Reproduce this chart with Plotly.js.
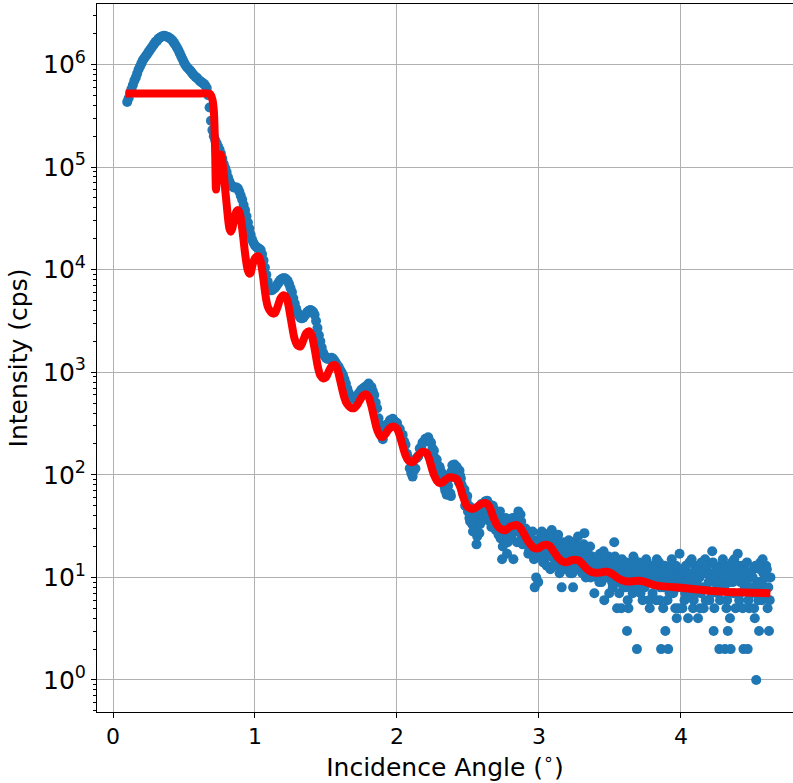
<!DOCTYPE html>
<html>
<head>
<meta charset="utf-8">
<script src="https://cdn.plot.ly/plotly-3.0.1.min.js"></script>
<style>html,body{margin:0;padding:0;background:#fff;}#chart{width:793px;height:783px;}</style>
</head>
<body>
<div id="chart"></div>
<script>
// Measured reflectivity (blue points), 0.01 degree readings
const measuredAngle = [
0.10,0.11,0.12,0.13,0.14,0.15,0.16,0.17,0.18,0.19,
0.20,0.21,0.22,0.23,0.24,0.25,0.26,0.27,0.28,0.29,
0.30,0.31,0.32,0.33,0.34,0.35,0.36,0.37,0.38,0.39,
0.40,0.41,0.42,0.43,0.44,0.45,0.46,0.47,0.48,0.49,
0.50,0.51,0.52,0.53,0.54,0.55,0.56,0.57,0.58,0.59,
0.60,0.61,0.62,0.63,0.64,0.65,0.66,0.67,0.68,0.69,
0.70,0.71,0.72,0.73,0.74,0.75,0.76,0.77,0.78,0.79,
0.80,0.81,0.82,0.83,0.84,0.85,0.86,0.87,0.88,0.89,
0.90,0.91,0.92,0.93,0.94,0.95,0.96,0.97,0.98,0.99,
1.00,1.01,1.02,1.03,1.04,1.05,1.06,1.07,1.08,1.09,
1.10,1.11,1.12,1.13,1.14,1.15,1.16,1.17,1.18,1.19,
1.20,1.21,1.22,1.23,1.24,1.25,1.26,1.27,1.28,1.29,
1.30,1.31,1.32,1.33,1.34,1.35,1.36,1.37,1.38,1.39,
1.40,1.41,1.42,1.43,1.44,1.45,1.46,1.47,1.48,1.49,
1.50,1.51,1.52,1.53,1.54,1.55,1.56,1.57,1.58,1.59,
1.60,1.61,1.62,1.63,1.64,1.65,1.66,1.67,1.68,1.69,
1.70,1.71,1.72,1.73,1.74,1.75,1.76,1.77,1.78,1.79,
1.80,1.81,1.82,1.83,1.84,1.85,1.86,1.87,1.88,1.89,
1.90,1.91,1.92,1.93,1.94,1.95,1.96,1.97,1.98,1.99,
2.00,2.01,2.02,2.03,2.04,2.05,2.06,2.07,2.08,2.09,
2.10,2.11,2.12,2.13,2.14,2.15,2.16,2.17,2.18,2.19,
2.20,2.21,2.22,2.23,2.24,2.25,2.26,2.27,2.28,2.29,
2.30,2.31,2.32,2.33,2.34,2.35,2.36,2.37,2.38,2.39,
2.40,2.41,2.42,2.43,2.44,2.45,2.46,2.47,2.48,2.49,
2.50,2.51,2.52,2.53,2.54,2.55,2.56,2.57,2.58,2.59,
2.60,2.61,2.62,2.63,2.64,2.65,2.66,2.67,2.68,2.69,
2.70,2.71,2.72,2.73,2.74,2.75,2.76,2.77,2.78,2.79,
2.80,2.81,2.82,2.83,2.84,2.85,2.86,2.87,2.88,2.89,
2.90,2.91,2.92,2.93,2.94,2.95,2.96,2.97,2.98,2.99,
3.00,3.01,3.02,3.03,3.04,3.05,3.06,3.07,3.08,3.09,
3.10,3.11,3.12,3.13,3.14,3.15,3.16,3.17,3.18,3.19,
3.20,3.21,3.22,3.23,3.24,3.25,3.26,3.27,3.28,3.29,
3.30,3.31,3.32,3.33,3.34,3.35,3.36,3.37,3.38,3.39,
3.40,3.41,3.42,3.43,3.44,3.45,3.46,3.47,3.48,3.49,
3.50,3.51,3.52,3.53,3.54,3.55,3.56,3.57,3.58,3.59,
3.60,3.61,3.62,3.63,3.64,3.65,3.66,3.67,3.68,3.69,
3.70,3.71,3.72,3.73,3.74,3.75,3.76,3.77,3.78,3.79,
3.80,3.81,3.82,3.83,3.84,3.85,3.86,3.87,3.88,3.89,
3.90,3.91,3.92,3.93,3.94,3.95,3.96,3.97,3.98,3.99,
4.00,4.01,4.02,4.03,4.04,4.05,4.06,4.07,4.08,4.09,
4.10,4.11,4.12,4.13,4.14,4.15,4.16,4.17,4.18,4.19,
4.20,4.21,4.22,4.23,4.24,4.25,4.26,4.27,4.28,4.29,
4.30,4.31,4.32,4.33,4.34,4.35,4.36,4.37,4.38,4.39,
4.40,4.41,4.42,4.43,4.44,4.45,4.46,4.47,4.48,4.49,
4.50,4.51,4.52,4.53,4.54,4.55,4.56,4.57,4.58,4.59,
4.60,4.61,4.62,4.63
];
const measuredIntensity = [
430000,468000,525000,575000,631000,692000,741000,813000,891000,955000,
1023000,1096000,1148000,1202000,1259000,1318000,1380000,1445000,1514000,1585000,
1660000,1698000,1778000,1820000,1862000,1884000,1905000,1884000,1862000,1841000,
1799000,1758000,1698000,1622000,1549000,1462000,1380000,1288000,1202000,1122000,
1047000,989000,944000,912000,881000,851000,813000,785000,759000,741000,
716000,692000,676000,661000,646000,624000,589000,501000,380000,282000,
229000,200000,182000,170000,158000,148000,135000,120000,107000,97700,
89100,79400,72400,67600,64600,63100,63100,63100,61700,57500,
52500,47900,42700,38000,33100,28800,25100,21900,19500,18200,
17200,16600,16200,16000,15500,14100,12300,10500,8910,7590,
6610,6310,6310,6460,6610,6920,7240,7590,7940,8130,
8220,8220,8040,7760,7240,6610,6030,5250,4680,4170,
3800,3550,3390,3350,3390,3550,3720,3890,3980,4030,
3980,3850,3630,3160,2690,2290,2000,1740,1550,1450,
1380,1350,1350,1360,1380,1350,1290,1230,1170,1120,
1050,1000,933,851,776,692,631,589,562,550,
550,562,589,617,646,676,692,708,724,741,
775,728,715,650,600,505,445,355,310,245,
222,258,276,310,318,340,332,352,335,325,
320,288,280,250,245,212,196,160,146,116,
104,96,110,115,146,152,180,186,206,208,
225,222,232,212,205,180,172,145,140,118,
120,105,96,84,70,64,78,98,62,124,
118,112,120,104,110,92,75,64,50,56,
44,38,48,33,41,30,21,36,27,45,
48,40,55,45,36,52,43,34,47,38,
33,40,28,24,15,35,26,30,22,36,
31,27,15,36,28,40,33,41,25,30,
27,22,24,18,26,19,23,8,10,16,
23,18,28,14,20,25,17,21,12,29,
19,15,24,13,20,17,8,22,14,18,
16,23,11,19,8,14,21,12,17,15,
18,13,27,10,16,12,20,14,11,7,
15,10,13,17,9,12,6,14,11,16,
10,13,8,22,12,5,9,14,5,11,
13,8,3,5,10,12,7,15,9,2,
11,8,13,6,10,9,14,12,5,9,
7,11,13,15,9,6,2,12,8,3,
10,2,7,13,9,11,5,4,8,17,
9,5,12,7,10,4,14,8,11,6,
13,9,4,10,7,12,5,15,8,11,
6,10,18,3,9,12,7,2,13,8,
11,2,5,3,9,2,14,7,10,12,
17,6,9,13,2,8,11,2,5,10,
7,12,4,1,9,3,14,6,11,8,
13,5,3,10
];

// Measured reflectivity, intermediate readings in the noisy tail (half-step angles)
const measuredAngleFine = [
2.305,2.315,2.325,2.335,2.345,2.355,2.365,2.375,2.385,2.395,
2.405,2.415,2.425,2.435,2.445,2.455,2.465,2.475,2.485,2.495,
2.505,2.515,2.525,2.535,2.545,2.555,2.565,2.575,2.585,2.595,
2.605,2.615,2.625,2.635,2.645,2.655,2.665,2.675,2.685,2.695,
2.705,2.715,2.725,2.735,2.745,2.755,2.765,2.775,2.785,2.795,
2.805,2.815,2.825,2.835,2.845,2.855,2.865,2.875,2.885,2.895,
2.905,2.915,2.925,2.935,2.945,2.955,2.965,2.975,2.985,2.995,
3.005,3.015,3.025,3.035,3.045,3.055,3.065,3.075,3.085,3.095,
3.105,3.115,3.125,3.135,3.145,3.155,3.165,3.175,3.185,3.195,
3.205,3.215,3.225,3.235,3.245,3.255,3.265,3.275,3.285,3.295,
3.305,3.315,3.325,3.335,3.345,3.355,3.365,3.375,3.385,3.395,
3.405,3.415,3.425,3.435,3.445,3.455,3.465,3.475,3.485,3.495,
3.505,3.515,3.525,3.535,3.545,3.555,3.565,3.575,3.585,3.595,
3.605,3.615,3.625,3.635,3.645,3.655,3.665,3.675,3.685,3.695,
3.705,3.715,3.725,3.735,3.745,3.755,3.765,3.775,3.785,3.795,
3.805,3.815,3.825,3.835,3.845,3.855,3.865,3.875,3.885,3.895,
3.905,3.915,3.925,3.935,3.945,3.955,3.965,3.975,3.985,3.995,
4.005,4.015,4.025,4.035,4.045,4.055,4.065,4.075,4.085,4.095,
4.105,4.115,4.125,4.135,4.145,4.155,4.165,4.175,4.185,4.195,
4.205,4.215,4.225,4.235,4.245,4.255,4.265,4.275,4.285,4.295,
4.305,4.315,4.325,4.335,4.345,4.355,4.365,4.375,4.385,4.395,
4.405,4.415,4.425,4.435,4.445,4.455,4.465,4.475,4.485,4.495,
4.505,4.515,4.525,4.535,4.545,4.555,4.565,4.575,4.585,4.595,
4.605,4.615,4.625
];
const measuredIntensityFine = [
112,90,102,76,88,70,92,66,108,100,
126,96,114,85,98,80,68,72,58,62,
50,35,42,28,46,39,25,43,33,52,
44,51,38,56,41,47,31,50,40,29,
37,26,44,31,20,29,38,17,27,32,
24,38,29,34,22,44,28,35,21,26,
30,21,17,25,20,28,15,18,21,9,
16,26,20,15,24,13,19,27,16,22,
13,21,17,26,11,19,15,12,20,16,
21,13,18,11,22,16,12,25,14,19,
11,21,15,12,17,13,10,16,12,14,
12,16,9,14,11,18,13,10,15,7,
14,9,12,16,10,13,7,11,15,8,
10,14,6,11,13,9,16,8,12,10,
14,7,10,12,8,15,11,6,13,10,
12,9,6,10,14,8,11,5,13,9,
6,12,9,15,7,10,13,8,5,11,
12,8,6,13,9,11,7,15,5,10,
7,12,10,5,14,8,11,6,13,9,
11,7,14,5,10,8,12,6,9,15,
8,13,6,10,4,12,9,15,5,11,
13,7,10,5,12,9,14,6,11,8,
10,5,13,8,6,12,9,15,7,10,
12,8,6
];

// Fitted model (red line)
const fitAngle = [
0.09,0.20,0.30,0.40,0.50,0.60,0.66,0.68,0.69,0.70,0.71,0.715,0.72,0.725,0.73,0.735,0.74,0.75,0.76,0.77,0.78,0.79,
0.80,0.81,0.82,0.83,0.84,0.85,0.86,0.87,0.88,0.89,0.90,0.91,0.92,0.93,0.94,0.95,0.96,0.97,0.98,0.99,
1.00,1.01,1.02,1.03,1.04,1.05,1.06,1.07,1.08,1.09,1.10,1.12,1.14,1.16,1.18,1.20,1.22,1.23,1.24,1.25,1.26,1.27,1.28,
1.30,1.32,1.34,1.36,1.38,1.40,1.41,1.42,1.43,1.44,1.45,1.46,1.48,1.50,1.52,1.54,1.56,1.57,1.58,1.59,
1.60,1.61,1.62,1.63,1.64,1.66,1.68,1.70,1.72,1.74,1.76,1.78,1.80,1.81,1.82,1.83,1.84,1.85,1.86,1.88,
1.90,1.92,1.94,1.96,1.98,2.00,2.01,2.02,2.03,2.04,2.05,2.06,2.08,2.10,2.12,2.14,2.16,2.18,
2.20,2.21,2.22,2.23,2.24,2.25,2.26,2.28,2.30,2.32,2.34,2.36,2.38,2.40,2.42,2.43,2.44,2.45,2.46,2.47,2.48,2.49,
2.50,2.52,2.54,2.56,2.58,2.60,2.62,2.63,2.64,2.65,2.66,2.67,2.68,2.69,2.70,2.71,2.72,2.74,2.76,2.78,
2.80,2.82,2.84,2.85,2.86,2.87,2.88,2.89,2.90,2.91,2.92,2.93,2.94,2.95,2.96,2.98,
3.00,3.02,3.04,3.06,3.07,3.08,3.09,3.10,3.11,3.12,3.13,3.14,3.15,3.16,3.18,
3.20,3.22,3.24,3.26,3.28,3.29,3.30,3.31,3.32,3.33,3.34,3.36,3.38,3.40,3.42,3.44,3.46,3.48,
3.50,3.52,3.54,3.56,3.58,3.60,3.62,3.64,3.66,3.68,3.70,3.72,3.74,3.76,3.78,3.80,3.83,3.86,3.90,3.95,
4.00,4.10,4.20,4.30,4.40,4.50,4.63
];
const fitIntensity = [
522000,522000,522000,522000,522000,522000,522000,519000,501000,457000,355000,240000,126000,60300,70800,95500,117500,131800,131800,112200,85100,60300,
43650,31620,25120,23440,25120,29510,33880,37150,38020,36310,31620,25120,19050,14450,11480,9772,9120,9333,10720,12020,
12880,13340,13490,13180,12020,10000,7943,6166,5012,4365,4074,3758,3758,4365,5248,5623,5370,4898,4169,3467,2884,2399,2089,
1820,1778,2042,2399,2512,2291,1995,1698,1413,1175,1023,933,871,891,1023,1148,1175,1148,1072,955,
832,724,631,562,513,468,447,447,479,537,589,610,575,525,468,407,355,309,275,240,
234,251,275,292,295,282,263,240,214,191,170,155,138,133,135,148,160,168,
166,162,151,138,123,110,100,88.1,83.2,84.1,89.1,93.3,94.4,93.3,91.2,87.1,79.4,72.4,64.6,58.9,53.7,50.1,
48.4,46.8,46.8,48.4,50.7,52.5,53.1,52.5,51.3,49.0,45.7,41.7,38.0,35.5,33.1,31.6,30.5,29.2,28.8,29.9,
31.3,32.0,32.4,32.0,31.3,30.2,28.8,27.2,25.7,24.3,22.9,21.9,20.9,20.2,19.5,19.1,
19.3,20.2,20.7,20.7,20.4,20.0,19.1,18.2,17.4,16.6,15.8,15.3,14.8,14.5,14.1,
14.1,14.5,14.8,14.8,14.6,14.3,13.8,13.3,12.9,12.4,12.0,11.5,11.2,11.1,11.1,11.2,11.35,11.35,
11.1,10.7,10.2,9.77,9.44,9.23,9.12,9.12,9.16,9.23,9.25,9.23,9.12,8.91,8.71,8.51,8.32,8.22,8.13,8.04,
7.94,7.67,7.41,7.24,7.16,7.08,7.00
];

// Axis ticks
const xTickValues = [0, 1, 2, 3, 4];
const xTickLabels = ['0', '1', '2', '3', '4'];
const yTickValues = [1, 10, 100, 1000, 10000, 100000, 1000000];
const yTickLabels = ['10<sup>0</sup>', '10<sup>1</sup>', '10<sup>2</sup>', '10<sup>3</sup>', '10<sup>4</sup>', '10<sup>5</sup>', '10<sup>6</sup>'];

const traces = [
  {
    type: 'scatter', mode: 'markers',
    x: measuredAngle.concat(measuredAngleFine),
    y: measuredIntensity.concat(measuredIntensityFine),
    marker: {color: '#1f77b4', size: 10, line: {width: 0}},
    hoverinfo: 'skip'
  },
  {
    type: 'scatter', mode: 'lines',
    x: fitAngle, y: fitIntensity,
    line: {color: '#ff0000', width: 8, shape: 'spline', smoothing: 0.7},
    hoverinfo: 'skip'
  }
];

const layout = {
  width: 793, height: 783,
  margin: {l: 97, r: 0, t: 4, b: 71, pad: 0},
  paper_bgcolor: '#ffffff', plot_bgcolor: '#ffffff',
  showlegend: false,
  font: {family: 'DejaVu Sans', color: '#000000'},
  xaxis: {
    range: [-0.1127, 4.789],
    tickmode: 'array', tickvals: xTickValues, ticktext: xTickLabels,
    ticks: 'outside', ticklen: 5, tickwidth: 1, tickcolor: '#000000',
    showgrid: true, gridcolor: '#b0b0b0', gridwidth: 1,
    showline: true, linecolor: '#000000', linewidth: 1, mirror: true,
    zeroline: false,
    tickfont: {size: 22},
    automargin: false,
    title: {text: 'Incidence Angle (<sup>∘</sup>)', font: {size: 25}, standoff: 8}
  },
  yaxis: {
    type: 'log',
    range: [-0.312, 6.589],
    tickmode: 'array', tickvals: yTickValues, ticktext: yTickLabels,
    ticks: 'outside', ticklen: 5, tickwidth: 1, tickcolor: '#000000',
    minor: {ticks: 'outside', ticklen: 3, tickwidth: 1, tickcolor: '#000000', dtick: 'D1', showgrid: false},
    showgrid: true, gridcolor: '#b0b0b0', gridwidth: 1,
    showline: true, linecolor: '#000000', linewidth: 1, mirror: false,
    zeroline: false,
    tickfont: {size: 25},
    automargin: false,
    title: {text: 'Intensity (cps)', font: {size: 25}, standoff: 8}
  }
};

Plotly.newPlot('chart', traces, layout, {displayModeBar: false, staticPlot: true});
</script>
</body>
</html>
